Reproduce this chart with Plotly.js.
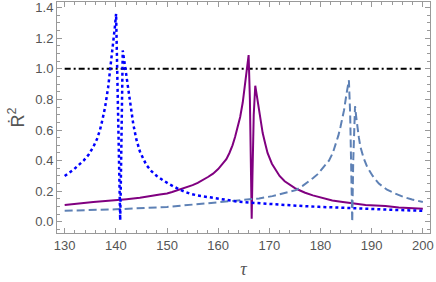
<!DOCTYPE html>
<html>
<head>
<meta charset="utf-8">
<script src="https://cdn.plot.ly/plotly-3.0.1.min.js"></script>
<style>html,body{margin:0;padding:0;background:#fff;}#chart{width:436px;height:282px;}</style>
</head>
<body>
<div id="chart"></div>
<script>
// Blue dotted curve
const tauBlue = [130, 131.7, 132.7, 133.7, 134.7, 135.6, 136.3, 136.9, 137.4, 137.9, 138.5, 138.9, 139.4, 139.8, 140.05, 140.3, 140.55, 140.75, 140.85, 140.95, 141.1, 141.25, 141.35, 141.7, 142.1, 142.7, 143.4, 144.0, 144.7, 145.4, 146.0, 147.0, 148.0, 149.3, 150.5, 152.5, 154.4, 156.0, 157.7, 160.9, 164.1, 167.4, 170.6, 173.2, 176.5, 179.7, 183.0, 186.2, 189.5, 192.7, 196.3, 200];
const r2Blue  = [0.30, 0.34, 0.37, 0.40, 0.44, 0.49, 0.54, 0.60, 0.67, 0.75, 0.88, 0.99, 1.14, 1.27, 1.36, 1.00, 0.50, 0.15, 0.01, 0.20, 0.60, 0.95, 1.12, 1.04, 0.95, 0.80, 0.64, 0.54, 0.46, 0.41, 0.37, 0.33, 0.30, 0.27, 0.245, 0.21, 0.185, 0.172, 0.163, 0.146, 0.131, 0.123, 0.115, 0.109, 0.103, 0.098, 0.095, 0.091, 0.085, 0.080, 0.076, 0.072];

// Purple solid curve
const tauPurple = [130, 135.6, 142.1, 144.7, 148.6, 150, 151, 152, 153, 154, 155, 156, 157, 158, 159, 160, 161, 161.6, 162.2, 162.8, 163.3, 163.8, 164.3, 164.8, 165.2, 165.5, 165.75, 165.95, 166.2, 166.4, 166.55, 166.7, 166.95, 167.25, 167.5, 167.9, 168.3, 168.7, 169.2, 169.65, 170.5, 171.3, 172.0, 173.0, 174.0, 175.0, 176.0, 177.0, 178.5, 180.0, 182.3, 184.0, 186.2, 188.8, 192.7, 195.3, 200];
const r2Purple  = [0.11, 0.13, 0.148, 0.157, 0.178, 0.185, 0.195, 0.205, 0.215, 0.228, 0.24, 0.255, 0.272, 0.293, 0.315, 0.345, 0.385, 0.41, 0.45, 0.50, 0.555, 0.615, 0.685, 0.78, 0.88, 0.97, 1.05, 1.09, 0.80, 0.40, 0.02, 0.30, 0.70, 0.89, 0.84, 0.75, 0.66, 0.58, 0.51, 0.45, 0.38, 0.335, 0.30, 0.265, 0.24, 0.22, 0.205, 0.19, 0.173, 0.16, 0.14, 0.132, 0.124, 0.11, 0.103, 0.094, 0.085];

// Steel-blue dashed curve
const tauDashed = [130, 140, 150, 155, 160, 165, 168, 170.6, 173.9, 175.2, 176.5, 177.4, 178.5, 179.4, 180.5, 181.65, 182.4, 183.0, 183.5, 183.9, 184.3, 184.6, 185.1, 185.55, 185.8, 186.0, 186.2, 186.4, 186.6, 186.75, 187.0, 187.2, 187.5, 187.8, 188.4, 189.1, 190.2, 191.4, 193.0, 194.6, 196.2, 197.9, 200];
const r2Dashed  = [0.072, 0.082, 0.097, 0.112, 0.126, 0.14, 0.153, 0.168, 0.196, 0.207, 0.235, 0.255, 0.285, 0.31, 0.355, 0.40, 0.45, 0.51, 0.565, 0.62, 0.68, 0.73, 0.84, 0.926, 0.70, 0.35, 0.0, 0.40, 0.70, 0.756, 0.68, 0.62, 0.55, 0.49, 0.42, 0.36, 0.30, 0.25, 0.21, 0.185, 0.163, 0.146, 0.13];

// Reference level
const tauRef = [130, 200];
const r2Ref  = [1.0, 1.0];

const xTicks = [130, 140, 150, 160, 170, 180, 190, 200];
const yTicks = [0.0, 0.2, 0.4, 0.6, 0.8, 1.0, 1.2, 1.4];

const traces = [
  {x: tauRef, y: r2Ref, mode: 'lines', line: {color: '#000000', width: 2, dash: '6px,3px,2px,3px'}, hoverinfo: 'skip'},
  {x: tauPurple, y: r2Purple, mode: 'lines', line: {color: '#800080', width: 2}},
  {x: tauDashed, y: r2Dashed, mode: 'lines', line: {color: '#5E81B5', width: 2, dash: '8px,4px'}},
  {x: tauBlue, y: r2Blue, mode: 'lines', line: {color: '#0000FF', width: 2.5, dash: 'dot'}}
];

const axisCommon = {
  showline: true, mirror: 'allticks', linecolor: '#999999', linewidth: 1,
  ticks: 'inside', ticklen: 5, tickwidth: 1, tickcolor: '#999999',
  showgrid: false, zeroline: false,
  tickfont: {family: 'Liberation Sans, Arial, sans-serif', size: 13, color: '#555555'}
};

const layout = {
  width: 436, height: 282,
  margin: {l: 57, r: 6, t: 2, b: 49},
  paper_bgcolor: '#ffffff', plot_bgcolor: '#ffffff',
  showlegend: false,
  xaxis: Object.assign({}, axisCommon, {
    range: [128.5, 201.4], tickmode: 'array', tickvals: xTicks,
    minor: {dtick: 2, tick0: 130, ticks: 'inside', ticklen: 3, tickcolor: '#999999', showgrid: false},
    title: {text: '<i>τ</i>', font: {family: 'Liberation Serif, Times New Roman, serif', size: 18, color: '#555555'}, standoff: 10}
  }),
  yaxis: Object.assign({}, axisCommon, {
    range: [-0.073, 1.437], tickmode: 'array', tickvals: yTicks, tickformat: '.1f',
    minor: {dtick: 0.05, tick0: 0, ticks: 'inside', ticklen: 3, tickcolor: '#999999', showgrid: false},
    title: {text: 'Ṙ<sup>2</sup>', font: {family: 'Liberation Sans, Arial, sans-serif', size: 18, color: '#555555'}, standoff: 6}
  })
};

Plotly.newPlot('chart', traces, layout, {staticPlot: true, displayModeBar: false});
</script>
</body>
</html>
